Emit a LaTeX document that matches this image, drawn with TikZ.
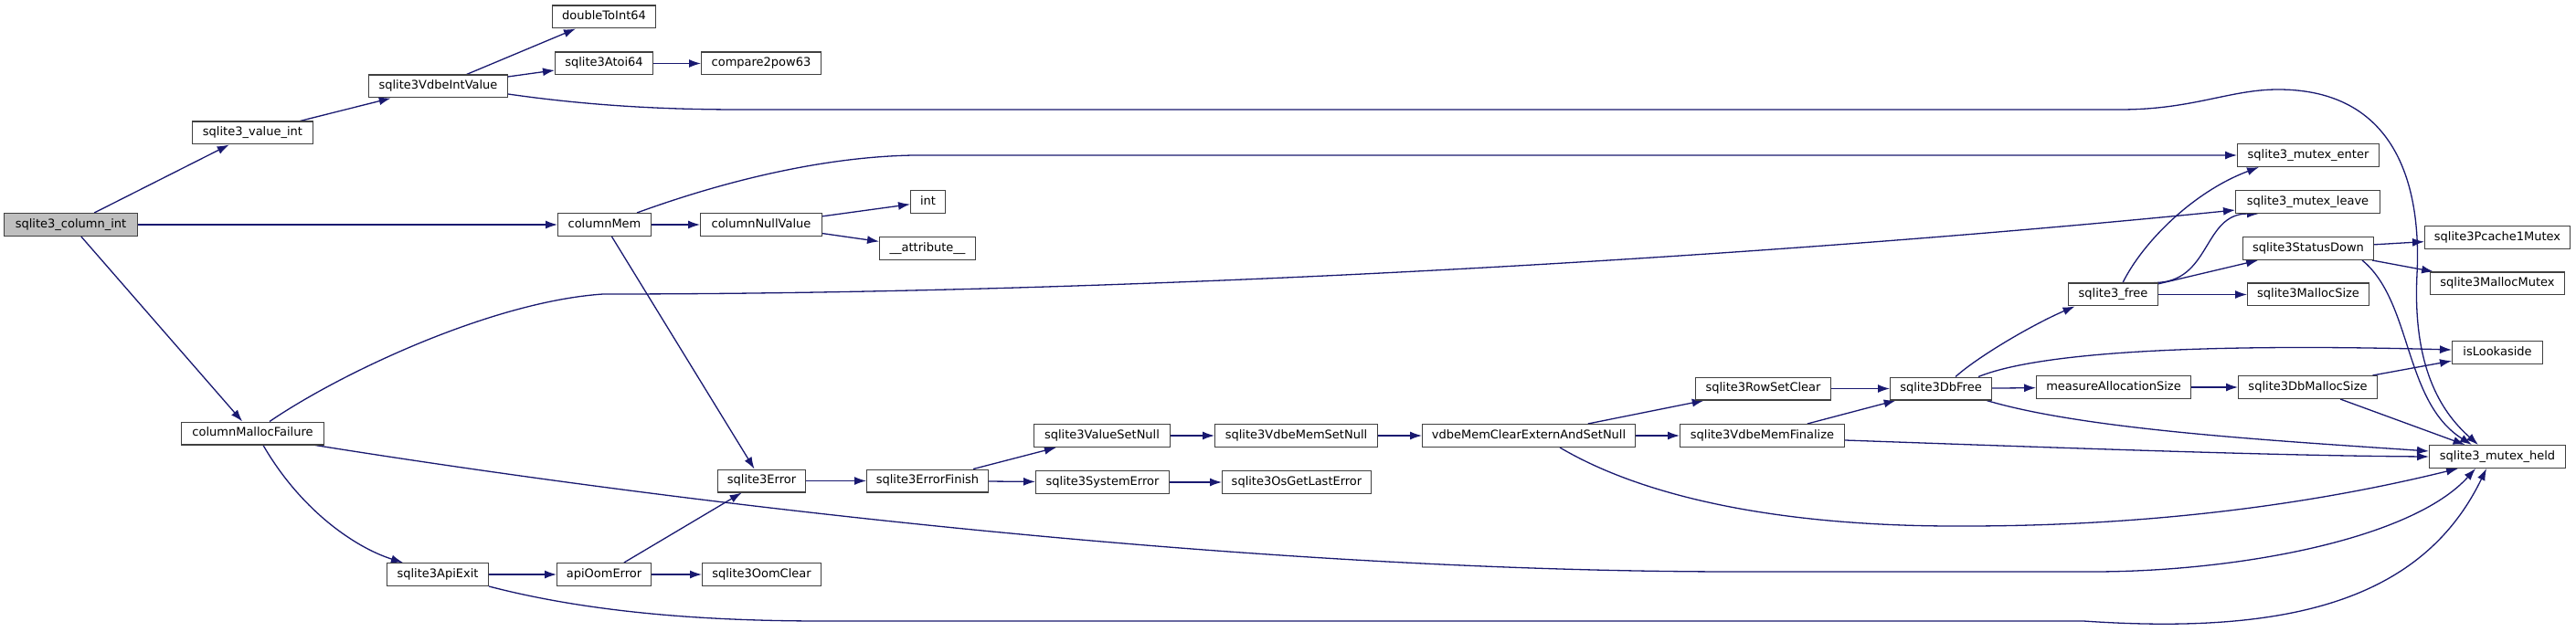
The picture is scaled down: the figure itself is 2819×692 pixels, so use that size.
\documentclass[tikz,border=0pt]{standalone}
\usepackage{fontspec}
\setmainfont{DejaVu Sans}
\usetikzlibrary{arrows.meta}
\pgfdeclarelayer{background}
\pgfsetlayers{background,main}
\definecolor{edgeblue}{HTML}{191970}
\definecolor{rootgray}{HTML}{BFBFBF}
\tikzset{
fnbox/.style={draw=black!75, line width=1.3pt, fill=white, minimum height=24.7pt,
  inner xsep=2pt, inner ysep=0pt, text height=9.5pt, text depth=3pt,
  font=\fontsize{13}{15}\selectfont},
rootbox/.style={fnbox, fill=rootgray},
call/.style={draw=edgeblue, line width=1.3pt, -{Latex[length=13pt,width=9pt]}}
}
\newcommand{\fnbox}[5][fnbox]{
\node[#1, minimum width=#4pt-1.3pt] (#2) at (#3) {#5}
}
\begin{document}
\begin{tikzpicture}[x=1pt, y=-1pt]
\fnbox[rootbox]{col}{77.5,246}{147}{sqlite3\_column\_int};
\fnbox{vint}{276.5,145.5}{133}{sqlite3\_value\_int};
\fnbox{vdint}{479.5,94.5}{153}{sqlite3VdbeIntValue};
\fnbox{d2i}{661,18.5}{114}{doubleToInt64};
\fnbox{atoi}{661,69.5}{108}{sqlite3Atoi64};
\fnbox{c2p}{833,69.5}{132}{compare2pow63};
\fnbox{cmem}{661.5,246}{103}{columnMem};
\fnbox{cnull}{833,246}{134}{columnNullValue};
\fnbox{intn}{1015.5,221}{39}{int};
\fnbox{attr}{1015,272}{106}{\_\_attribute\_\_};
\fnbox{cmf}{276.5,474.5}{157}{columnMallocFailure};
\fnbox{err}{833.5,526.5}{97}{sqlite3Error};
\fnbox{efin}{1015,526.5}{134}{sqlite3ErrorFinish};
\fnbox{vsetnull}{1206,477}{150}{sqlite3ValueSetNull};
\fnbox{syserr}{1206.5,528}{147}{sqlite3SystemError};
\fnbox{memsetnull}{1418.5,477}{179}{sqlite3VdbeMemSetNull};
\fnbox{oslast}{1419,528}{164}{sqlite3OsGetLastError};
\fnbox{clrnull}{1673,477}{234}{vdbeMemClearExternAndSetNull};
\fnbox{rowclr}{1929.5,425.5}{149}{sqlite3RowSetClear};
\fnbox{memfin}{1928.5,477}{181}{sqlite3VdbeMemFinalize};
\fnbox{dbfree}{2124,425.5}{112}{sqlite3DbFree};
\fnbox{measure}{2313,424}{170}{measureAllocationSize};
\fnbox{dbmsize}{2525.5,424}{153}{sqlite3DbMallocSize};
\fnbox{free}{2312.5,322.5}{99}{sqlite3\_free};
\fnbox{menter}{2526,170}{156}{sqlite3\_mutex\_enter};
\fnbox{mleave}{2525.5,221}{159}{sqlite3\_mutex\_leave};
\fnbox{sdown}{2526,272}{144}{sqlite3StatusDown};
\fnbox{msize}{2526,322.5}{134}{sqlite3MallocSize};
\fnbox{pcmutex}{2733,260}{160}{sqlite3Pcache1Mutex};
\fnbox{mmutex}{2733,310.5}{148}{sqlite3MallocMutex};
\fnbox{islook}{2733,386}{100}{isLookaside};
\fnbox{mheld}{2733,500}{150}{sqlite3\_mutex\_held};
\fnbox{apiexit}{479,629}{112}{sqlite3ApiExit};
\fnbox{oomerr}{661,629}{104}{apiOomError};
\fnbox{oomclr}{833.5,629}{131}{sqlite3OomClear};

\begin{pgfonlayer}{background}
\useasboundingbox[fill=white] (0,0) rectangle (2819,692);
\draw[call] (col) -- (vint);
\draw[call] (col) -- (cmem);
\draw[call] (col) -- (cmf);
\draw[call] (vint) -- (vdint);
\draw[call] (vdint) -- (d2i);
\draw[call] (vdint) -- (atoi);
\draw[call] (atoi) -- (c2p);
\draw[call] ([yshift=-8.5pt]vdint.east) .. controls (640,115) and (720,120) .. (810,120)
  -- (2320,120) .. controls (2400,120) and (2440,98) .. (2493,98)
  .. controls (2620,98) and (2650,200) .. (2645,300)
  .. controls (2640,400) and (2670,450) .. ([xshift=54pt]mheld.north west);
\draw[call] (cmem) -- (cnull);
\draw[call] ([xshift=35.5pt]cmem.north) .. controls (760,210) and (880,172) .. (1000,170) -- (menter.west);
\draw[call] (cmem) -- (err);
\draw[call] (cnull) -- (intn);
\draw[call] (cnull) -- (attr);
\draw[call] ([xshift=18.5pt]cmf.north) .. controls (375,407) and (540,330) .. (660,322)
  .. controls (1300,322) and (2000,275) .. ([yshift=-9pt]mleave.west);
\draw[call] ([xshift=11.5pt]cmf.south) .. controls (330,560) and (390,600) .. ([xshift=-38pt]apiexit.north);
\draw[call] ([xshift=68.5pt]cmf.south) .. controls (800,560) and (1400,626) .. (1900,626)
  -- (2290,626) .. controls (2450,626) and (2640,590) .. ([xshift=51pt]mheld.south west);
\draw[call] (err) -- (efin);
\draw[call] (efin) -- (vsetnull);
\draw[call] (efin) -- (syserr);
\draw[call] (vsetnull) -- (memsetnull);
\draw[call] (memsetnull) -- (clrnull);
\draw[call] (syserr) -- (oslast);
\draw[call] (clrnull) -- (rowclr);
\draw[call] (clrnull) -- (memfin);
\draw[call] ([xshift=34pt]clrnull.south) .. controls (1800,545) and (1950,577) .. (2150,576)
  .. controls (2400,576) and (2580,540) .. ([xshift=32pt]mheld.south west);
\draw[call] (rowclr) -- (dbfree);
\draw[call] (memfin) -- (dbfree);
\draw[call] ([yshift=-5pt]memfin.east) .. controls (2300,492) and (2500,499) .. (mheld.west);
\draw[call] ([xshift=16pt]dbfree.north) .. controls (2165,390) and (2225,355) .. ([xshift=-42pt]free.south);
\draw[call] ([xshift=41pt]dbfree.north) .. controls (2250,378) and (2500,378) .. ([yshift=3pt]islook.west);
\draw[call] (dbfree) -- (measure);
\draw[call] ([xshift=50pt]dbfree.south) .. controls (2280,470) and (2480,482) .. ([yshift=6pt]mheld.west);
\draw[call] (measure) -- (dbmsize);
\draw[call] (dbmsize) -- (islook);
\draw[call] (dbmsize) -- (mheld);
\draw[call] ([xshift=10.5pt]free.north) .. controls (2345,265) and (2400,210) .. ([xshift=-54pt]menter.south);
\draw[call] ([xshift=44.5pt]free.north) .. controls (2420,310) and (2410,234) .. ([xshift=-53.5pt]mleave.south);
\draw[call] (free) -- (sdown);
\draw[call] (free) -- (msize);
\draw[call] (sdown) -- (pcmutex);
\draw[call] (sdown) -- (mmutex);
\draw[call] ([xshift=59pt]sdown.south) .. controls (2640,330) and (2630,440) .. ([xshift=47pt]mheld.north west);
\draw[call] (apiexit) -- (oomerr);
\draw[call] (apiexit.south east) .. controls (650,672) and (780,680) .. (900,680)
  -- (2280,680) .. controls (2500,695) and (2650,660) .. ([xshift=63pt]mheld.south west);
\draw[call] (oomerr) -- (err);
\draw[call] (oomerr) -- (oomclr);
\end{pgfonlayer}
\end{tikzpicture}
\end{document}
